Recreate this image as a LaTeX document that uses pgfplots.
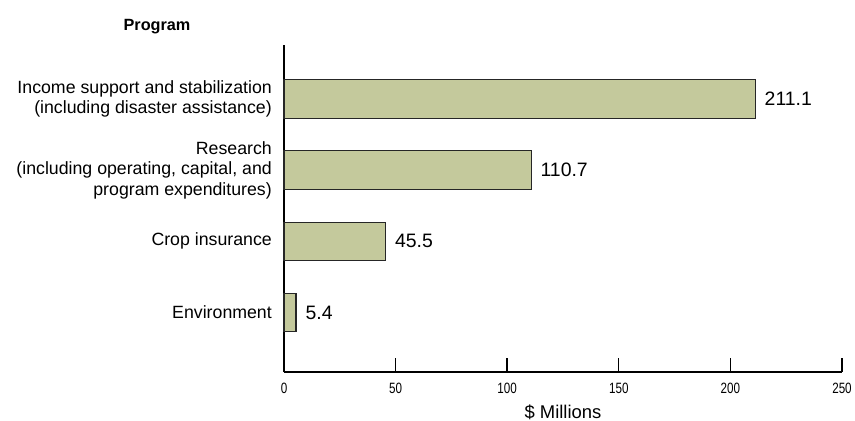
\documentclass[border=0pt]{standalone}
\usepackage{fontspec}
\setmainfont{Liberation Sans}
\usepackage{graphicx}
\usepackage{pgfplots}
\pgfplotsset{compat=1.18}
\definecolor{barfill}{RGB}{196,201,156}
\begin{document}
\begin{tikzpicture}
\useasboundingbox (-284bp,-49bp) rectangle (571bp,372bp);
\begin{axis}[
  at={(0,0)}, anchor=south west,
  scale only axis, width=558bp, height=327bp,
  xbar, bar width=38.5bp,
  xmin=0, xmax=250, ymin=0.164, ymax=4.759,
  axis x line=bottom, axis y line=left,
  axis line style={-, line width=1.5bp, black},
  xtick={0,50,...,250},
  xtick style={line width=1.4bp, black},
  tick align=inside,
  major tick length=14bp,
  ytick={1,2,3,4},
  yticklabels={Environment, Crop insurance, {Research\\(including operating, capital, and\\program expenditures)}, {Income support and stabilization\\(including disaster assistance)}},
  ytick style={draw=none},
  yticklabel style={align=right, font=\fontsize{17.8}{20.5}\selectfont, inner sep=0pt, anchor=east, xshift=-12bp},
  xticklabel={\scalebox{0.78}[1]{\pgfmathprintnumber{\tick}}},
  xticklabel style={font=\fontsize{15}{16}\selectfont, anchor=base, inner sep=0pt, yshift=-21bp},
  xlabel={\$ Millions},
  xlabel style={font=\fontsize{18.5}{20}\selectfont, at={(axis description cs:0.5,0)}, anchor=base, inner sep=0pt, yshift=-46bp},
  /pgf/number format/assume math mode=true,
  nodes near coords={\pgfmathprintnumber[fixed,fixed zerofill,precision=1]{\pgfplotspointmeta}},
  point meta=x,
  nodes near coords style={font=\fontsize{19.5}{22}\selectfont, anchor=west, inner sep=0pt, xshift=9bp},
  clip=false,
]
\addplot[fill=barfill, draw=black!85, line width=1.1bp] coordinates {(5.4,1) (45.5,2) (110.7,3) (211.1,4)};
\end{axis}
\node[anchor=base, font=\bfseries\fontsize{16.3}{18}\selectfont] at (-127bp,341bp) {Program};
\end{tikzpicture}
\end{document}
